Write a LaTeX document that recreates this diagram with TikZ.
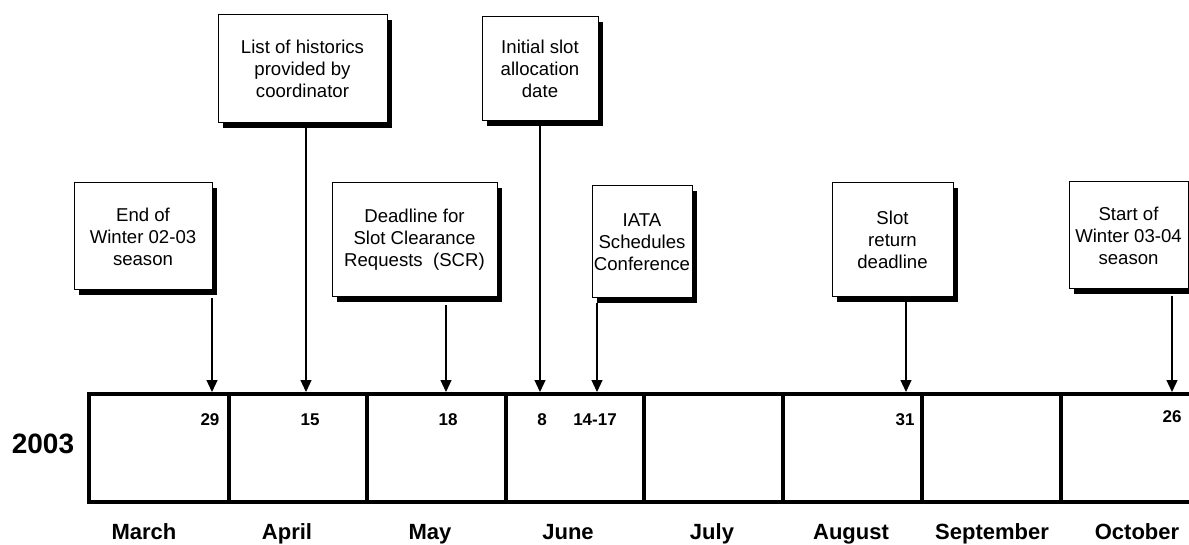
\documentclass[tikz,border=0pt]{standalone}
\usepackage{fontspec}
\setmainfont{Liberation Sans}
\usetikzlibrary{arrows.meta,shadows}
\begin{document}
\begin{tikzpicture}[x=1pt,y=-1pt,
  evbox/.style={draw=black, line width=1pt, fill=white, inner sep=0pt, align=center,
    font=\fontsize{18.6}{22}\selectfont,
    drop shadow={shadow xshift=5pt, shadow yshift=-5pt, fill=black, opacity=1}},
  arr/.style={line width=1.3pt, -{Triangle[width=11pt,length=12pt]}},
  tl/.style={line width=4pt},
  day/.style={font=\bfseries\fontsize{17}{20}\selectfont, anchor=base, inner sep=0pt},
  month/.style={font=\bfseries\fontsize{22}{26}\selectfont, anchor=base, inner sep=0pt}]
\useasboundingbox (0,0) rectangle (1189,545);

% event boxes
\node[evbox, minimum width=138pt, minimum height=107pt] (e1) at (143,236.5) {End of\\Winter 02-03\\season};
\node[evbox, minimum width=169pt, minimum height=108pt] (e2) at (302.5,69) {List of historics\\provided by\\coordinator};
\node[evbox, minimum width=165pt, minimum height=114pt] (e3) at (414.5,240) {Deadline for\\Slot Clearance\\Requests\ \ (SCR)};
\node[evbox, minimum width=116pt, minimum height=104pt] (e4) at (540,69) {Initial slot\\allocation\\date};
\node[evbox, minimum width=100pt, minimum height=112pt] (e5) at (642,242) {IATA\\Schedules\\Conference};
\node[evbox, minimum width=121pt, minimum height=114pt] (e6) at (892.5,240) {Slot\\return\\deadline};
\node[evbox, minimum width=119pt, minimum height=107pt] (e7) at (1128.5,235.5) {Start of\\Winter 03-04\\season};

% timeline
\draw[tl, line join=miter] (1189,394) -- (89,394) -- (89,502) -- (1189,502);
\foreach \x in {229,367,506,644,783,922,1061}
  \draw[tl] (\x,394) -- (\x,502);

% arrow tips
\coordinate (t1) at (212,392);
\coordinate (t2) at (306,392);
\coordinate (t3) at (446,392);
\coordinate (t4) at (540,392);
\coordinate (t5) at (597,392);
\coordinate (t6) at (906,392);
\coordinate (t7) at (1172,392);

\draw[arr] (e1.south -| t1) ++(0,8) -- (t1);
\draw[arr] (e2.south -| t2) ++(0,5) -- (t2);
\draw[arr] (e3.south -| t3) ++(0,8) -- (t3);
\draw[arr] (e4.south -| t4) ++(0,5) -- (t4);
\draw[arr] (e5.south -| t5) ++(0,5) -- (t5);
\draw[arr] (e6.south -| t6) ++(0,5) -- (t6);
\draw[arr] (e7.south -| t7) ++(0,7) -- (t7);

% day labels
\node[day] (d1) at (210,425) {29};
\node[day] (d2) at (310,425) {15};
\node[day] (d3) at (448,425) {18};
\node[day] (d4) at (542,425) {8};
\node[day] (d5) at (595,425) {14-17};
\node[day] (d6) at (905,425) {31};
\node[day] (d7) at (1172,422) {26};

% year
\node[font=\bfseries\fontsize{28}{32}\selectfont, anchor=base, inner sep=0pt] (yr) at (43,453) {2003};

% months
\node[month] (m1) at (144,539) {March};
\node[month] (m2) at (287,539) {April};
\node[month] (m3) at (430,539) {May};
\node[month] (m4) at (568,539) {June};
\node[month] (m5) at (712,539) {July};
\node[month] (m6) at (851,539) {August};
\node[month] (m7) at (992,539) {September};
\node[month] (m8) at (1137,539) {October};
\end{tikzpicture}
\end{document}
